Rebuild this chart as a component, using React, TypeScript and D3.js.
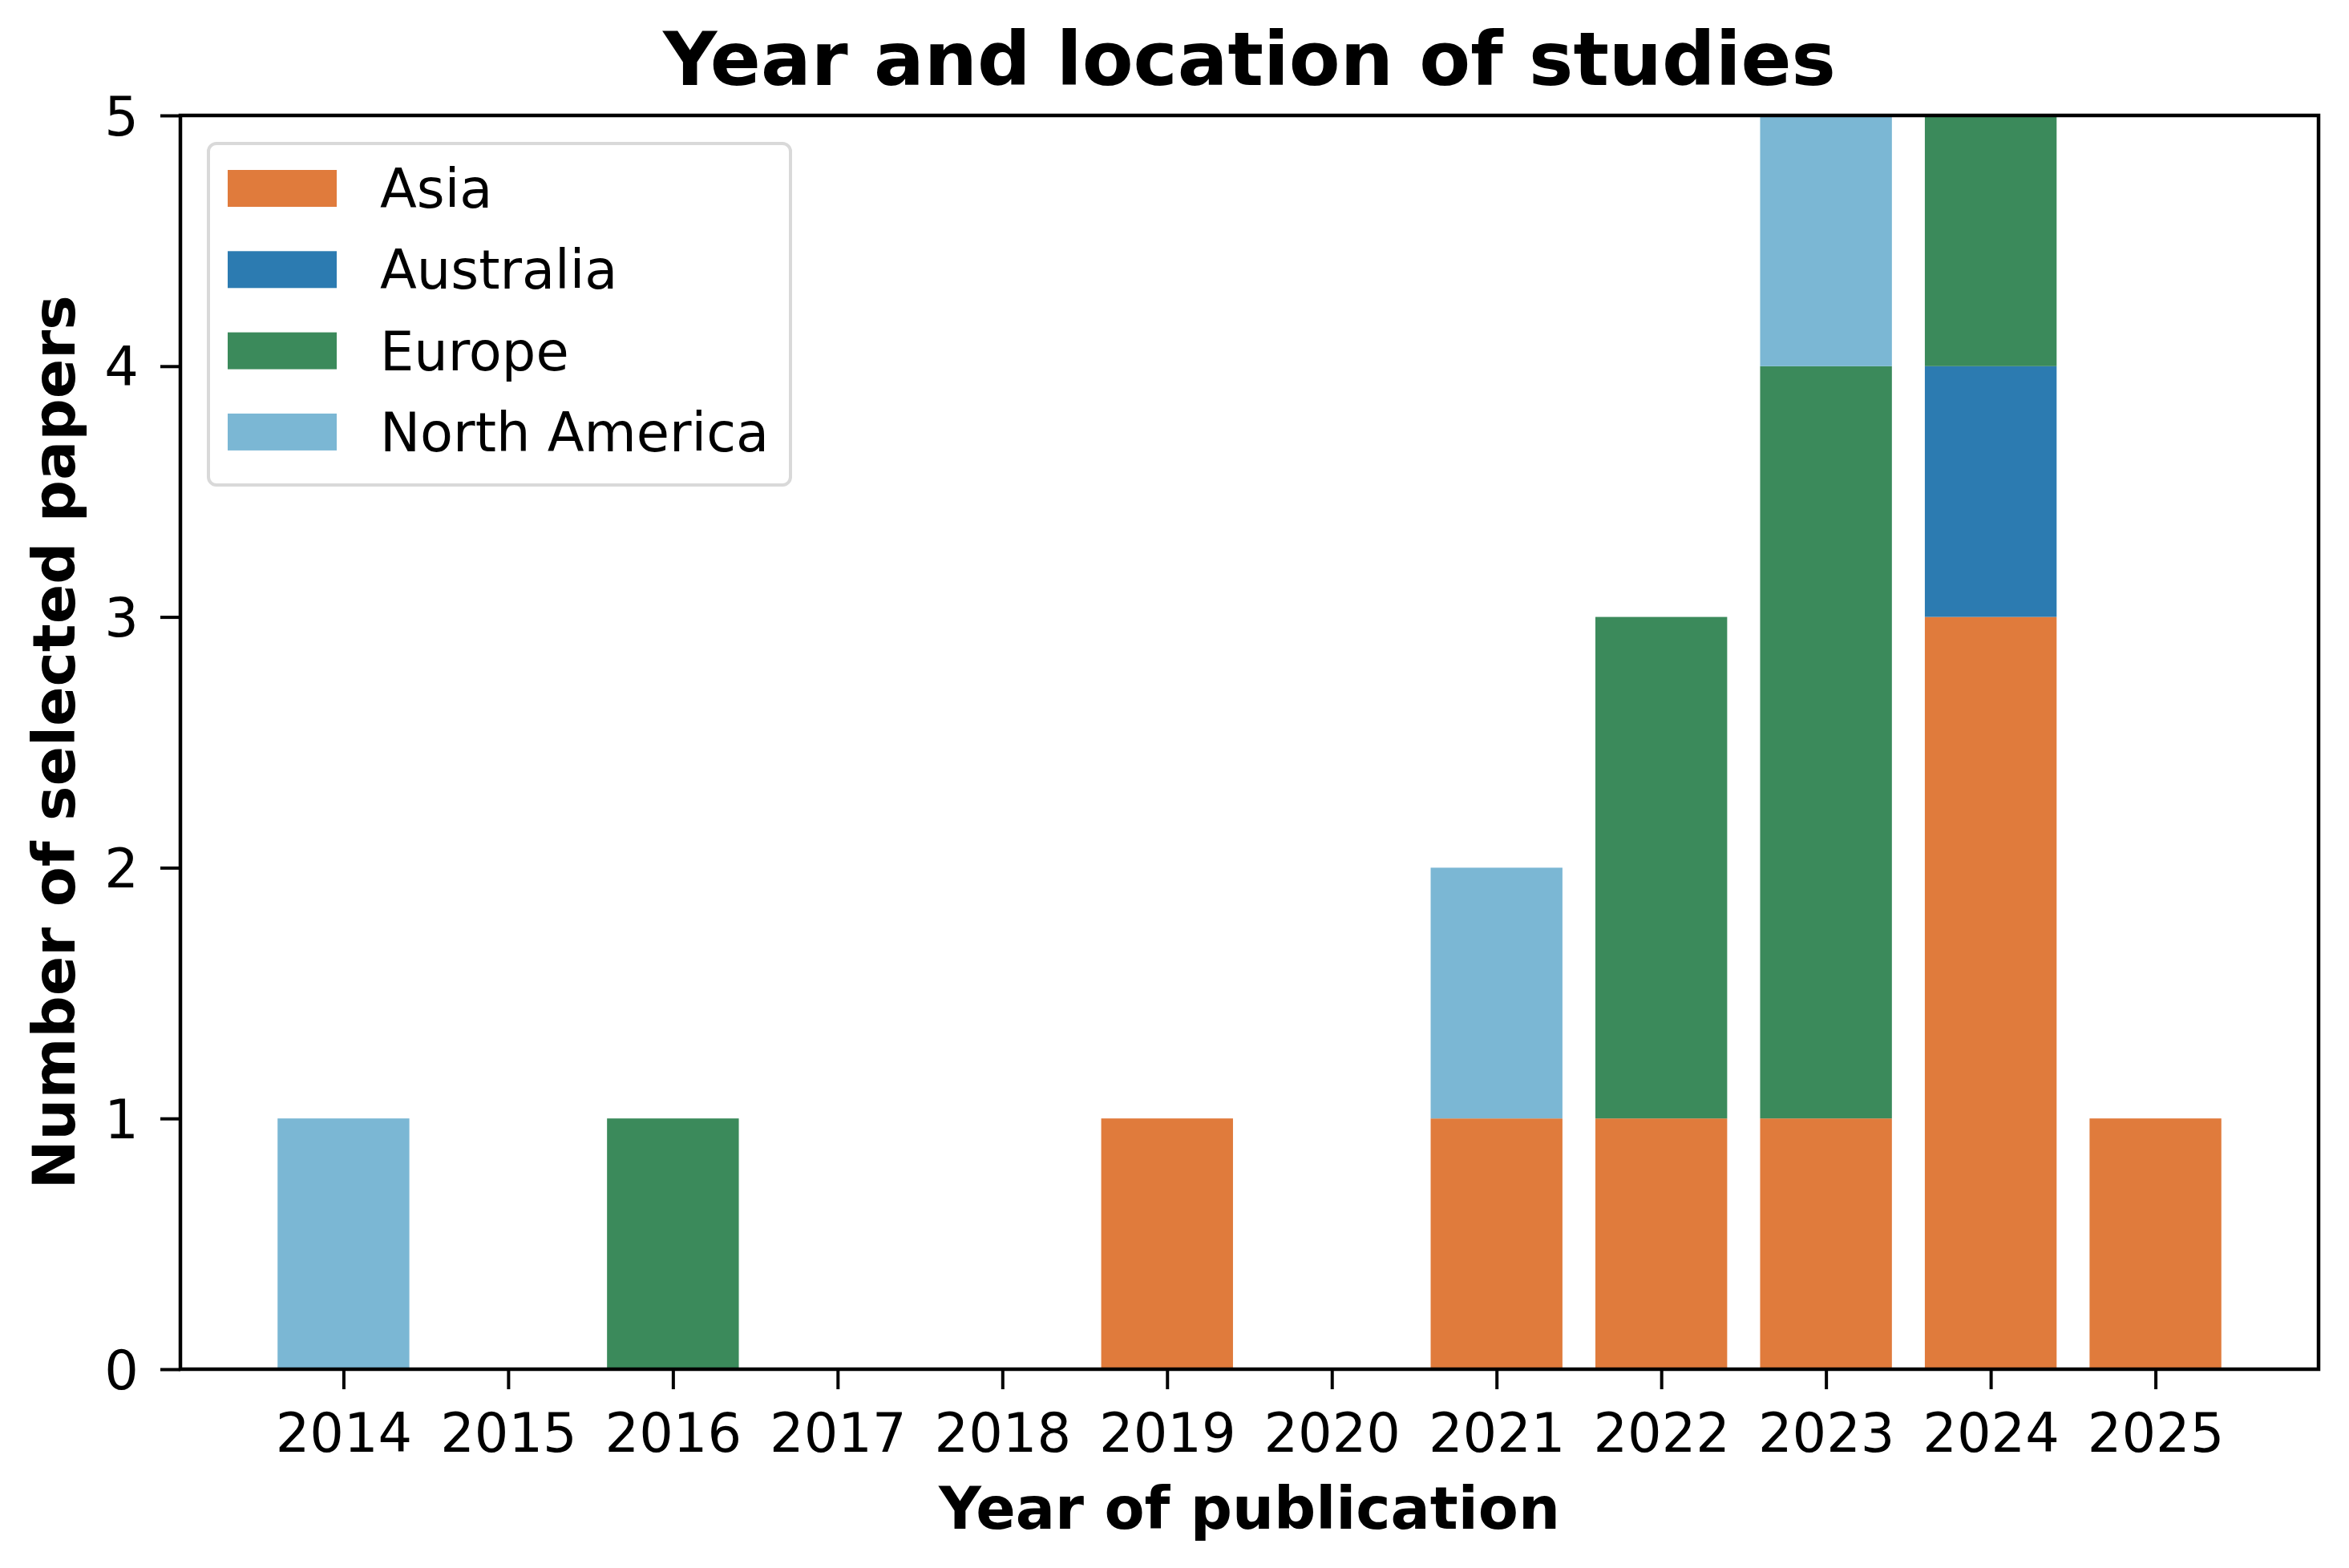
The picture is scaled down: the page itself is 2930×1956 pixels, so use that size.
import React, { useEffect, useRef } from 'react';
import * as d3 from 'd3';

const years = [2014, 2015, 2016, 2017, 2018, 2019, 2020, 2021, 2022, 2023, 2024, 2025];
const asia = [0, 0, 0, 0, 0, 1, 0, 1, 1, 1, 3, 1];
const australia = [0, 0, 0, 0, 0, 0, 0, 0, 0, 0, 1, 0];
const europe = [0, 0, 1, 0, 0, 0, 0, 0, 2, 3, 1, 0];
const northAmerica = [1, 0, 0, 0, 0, 0, 0, 1, 0, 1, 0, 0];
const regions = ['Asia', 'Australia', 'Europe', 'North America'];
const yTicks = [0, 1, 2, 3, 4, 5];

const colors: Record<string, string> = {
  'Asia': '#e07b3c',
  'Australia': '#2c7bb1',
  'Europe': '#3b8a5b',
  'North America': '#7bb7d4'
};

const W = 2930;
const H = 1956;
const FONT = '"DejaVu Sans", sans-serif';

const App: React.FC = () => {
  const svgRef = useRef<SVGSVGElement>(null);

  useEffect(() => {
    document.body.style.margin = '0';
    const svg = d3.select(svgRef.current);
    svg.selectAll('*').remove();

    const left = 225, right = 2892, top = 144, bottom = 1708;
    const barW = 0.8;
    const pad = (years[years.length - 1] - years[0] + barW) * 0.05;

    const x = d3.scaleLinear()
      .domain([years[0] - barW / 2 - pad, years[years.length - 1] + barW / 2 + pad])
      .range([left, right]);
    const y = d3.scaleLinear().domain([0, 5]).range([bottom, top]);

    const rows = years.map((yr, i) => ({
      year: yr,
      'Asia': asia[i],
      'Australia': australia[i],
      'Europe': europe[i],
      'North America': northAmerica[i]
    }));
    const stacked = d3.stack<any>().keys(regions)(rows);

    // bars
    stacked.forEach(layer => {
      svg.append('g')
        .selectAll('rect')
        .data(layer.filter(d => d[1] > d[0]))
        .enter()
        .append('rect')
        .attr('x', d => x(d.data.year - barW / 2))
        .attr('width', x(barW) - x(0))
        .attr('y', d => y(d[1]))
        .attr('height', d => y(d[0]) - y(d[1]))
        .attr('fill', colors[layer.key]);
    });

    // x axis
    const xAxis = svg.append('g')
      .attr('transform', `translate(0,${bottom})`)
      .call(d3.axisBottom(x).tickValues(years).tickFormat(d3.format('d')).tickSize(25).tickPadding(30));
    xAxis.select('.domain').remove();
    xAxis.selectAll('line').attr('stroke', '#000').attr('stroke-width', 4);
    xAxis.selectAll('text')
      .attr('fill', '#000')
      .style('font-family', FONT)
      .style('font-size', '67px');

    // y axis
    const yAxis = svg.append('g')
      .attr('transform', `translate(${left},0)`)
      .call(d3.axisLeft(y).tickValues(yTicks).tickFormat(d3.format('d')).tickSize(25).tickPadding(27));
    yAxis.select('.domain').remove();
    yAxis.selectAll('line').attr('stroke', '#000').attr('stroke-width', 4);
    yAxis.selectAll('text')
      .attr('fill', '#000')
      .attr('dy', '0.36em')
      .style('font-family', FONT)
      .style('font-size', '67px');

    // frame
    svg.append('rect')
      .attr('x', left)
      .attr('y', top)
      .attr('width', right - left)
      .attr('height', bottom - top)
      .attr('fill', 'none')
      .attr('stroke', '#000')
      .attr('stroke-width', 4.5);

    // title
    svg.append('text')
      .attr('x', (left + right) / 2)
      .attr('y', 106)
      .attr('text-anchor', 'middle')
      .style('font-family', FONT)
      .style('font-weight', 'bold')
      .style('font-size', '93px')
      .text('Year and location of studies');

    // axis labels
    svg.append('text')
      .attr('x', (left + right) / 2)
      .attr('y', 1907)
      .attr('text-anchor', 'middle')
      .style('font-family', FONT)
      .style('font-weight', 'bold')
      .style('font-size', '73px')
      .text('Year of publication');

    svg.append('text')
      .attr('transform', `translate(93,${(top + bottom) / 2}) rotate(-90)`)
      .attr('text-anchor', 'middle')
      .style('font-family', FONT)
      .style('font-weight', 'bold')
      .style('font-size', '73px')
      .text('Number of selected papers');

    // legend
    const legend = svg.append('g');
    legend.append('rect')
      .attr('x', 260)
      .attr('y', 179)
      .attr('width', 726)
      .attr('height', 426)
      .attr('rx', 10)
      .attr('fill', 'rgba(255,255,255,0.8)')
      .attr('stroke', '#d9d9d9')
      .attr('stroke-width', 4);

    const items = legend.selectAll('.legend-item')
      .data(regions)
      .enter()
      .append('g')
      .attr('transform', (d, i) => `translate(284, ${212 + i * 101.3})`);

    items.append('rect')
      .attr('width', 136)
      .attr('height', 46)
      .attr('fill', d => colors[d]);

    items.append('text')
      .attr('x', 190)
      .attr('y', 47)
      .style('font-family', FONT)
      .style('font-size', '67px')
      .text(d => d);
  }, []);

  return <svg ref={svgRef} width={W} height={H} style={{ display: 'block', background: '#fff' }} />;
};

export default App;
